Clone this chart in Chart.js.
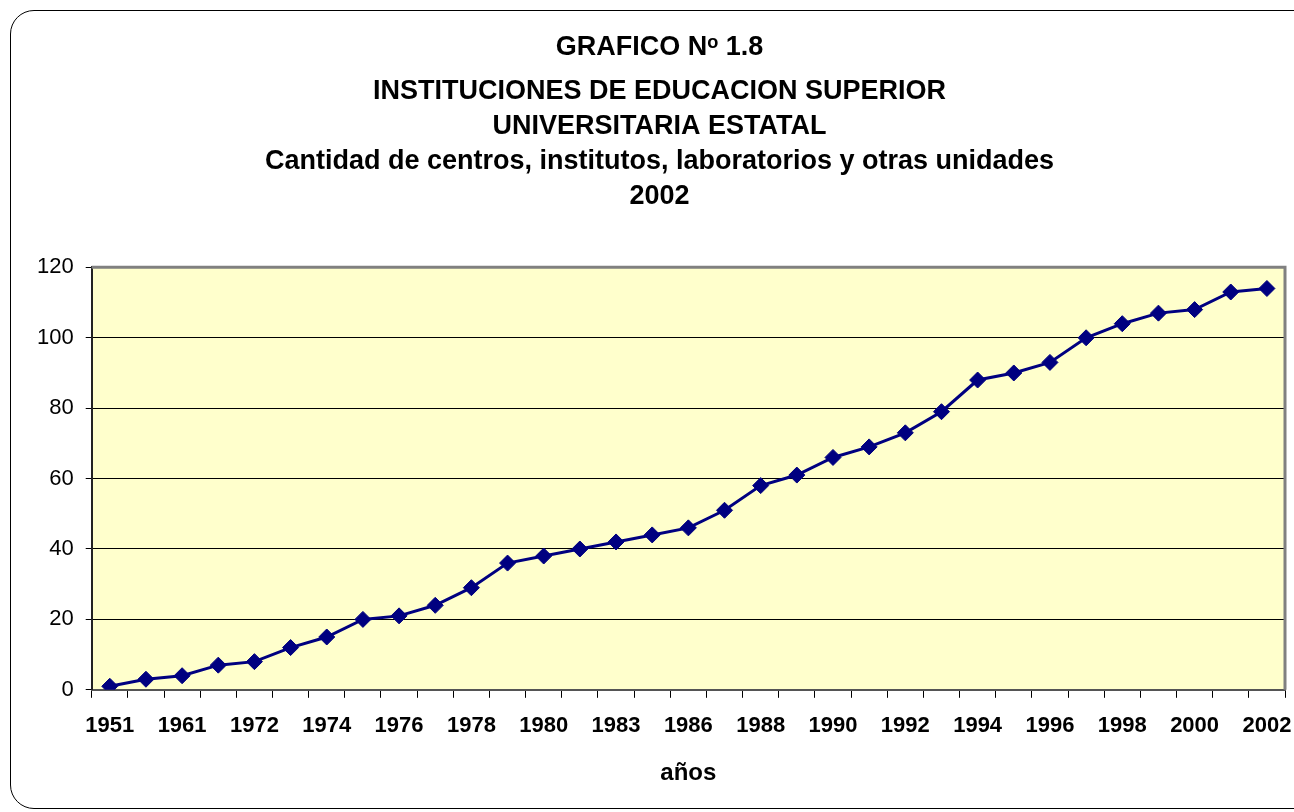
<!DOCTYPE html>
<html>
<head>
<meta charset="utf-8">
<script src="https://cdn.jsdelivr.net/npm/chart.js@4"></script>
<style>
    html, body { margin: 0; padding: 0; background: #fff; overflow: hidden; }
    #marco {
        position: absolute; left: 10px; top: 10px;
        width: 1310px; height: 799px;
        border: 1.5px solid #000; border-radius: 24px;
        box-sizing: border-box; pointer-events: none;
    }
    #wrap { position: absolute; left: 0; top: 0; width: 1294px; height: 812px; }
</style>
</head>
<body>
<div id="wrap"><canvas id="grafico" width="1294" height="812"></canvas></div>
<div id="marco"></div>
<script>
// años (solo se rotulan los pares)
const anios = [
    '1951', '1955', '1961', '1970', '1972', '1973', '1974', '1975', '1976', '1977', '1978',
    '1979', '1980', '1982', '1983', '1985', '1986', '1987', '1988', '1989', '1990',
    '1991', '1992', '1993', '1994', '1995', '1996', '1997', '1998', '1999', '2000',
    '2001', '2002'
];
// cantidad de centros, institutos, laboratorios y otras unidades
const cantidad = [
    1, 3, 4, 7, 8, 12, 15, 20, 21, 24, 29,
    36, 38, 40, 42, 44, 46, 51, 58, 61, 66,
    69, 73, 79, 88, 90, 93, 100, 104, 107, 108,
    113, 114
];
const titulo = 'GRAFICO N\u1D52 1.8';
const subtitulo = [
    'INSTITUCIONES DE EDUCACION SUPERIOR',
    'UNIVERSITARIA ESTATAL',
    'Cantidad de centros, institutos, laboratorios y otras unidades',
    '2002'
];

const fuente = "'Liberation Sans', Arial, sans-serif";

// fondo amarillo y borde gris del area de trazado
const fondoArea = {
    id: 'fondoArea',
    beforeDraw(chart) {
        const { ctx, chartArea: a } = chart;
        ctx.save();
        ctx.fillStyle = '#FFFFCC';
        ctx.fillRect(a.left, a.top, a.width, a.height);
        ctx.restore();
    },
    beforeDatasetsDraw(chart) {
        const { ctx, chartArea: a } = chart;
        ctx.save();
        ctx.strokeStyle = '#808080';
        ctx.lineWidth = 3;
        ctx.beginPath();
        ctx.moveTo(a.left, a.top);
        ctx.lineTo(a.right, a.top);
        ctx.lineTo(a.right, a.bottom);
        ctx.stroke();
        ctx.restore();
    }
};

const ctx = document.getElementById('grafico').getContext('2d');
const grafico = new Chart(ctx, {
    type: 'line',
    data: {
        labels: anios,
        datasets: [{
            data: cantidad,
            borderColor: '#000080',
            backgroundColor: '#000080',
            borderWidth: 3,
            pointStyle: 'rectRot',
            pointRadius: 8,
            pointBorderWidth: 1,
            tension: 0,
            fill: false
        }]
    },
    options: {
        responsive: false,
        animation: false,
        layout: { padding: { left: 25, right: 0, top: 0, bottom: 22 } },
        plugins: {
            legend: { display: false },
            tooltip: { enabled: false },
            title: {
                display: true,
                text: titulo,
                color: '#000',
                font: { family: fuente, size: 27, weight: 'bold' },
                padding: { top: 31, bottom: 11 }
            },
            subtitle: {
                display: true,
                text: subtitulo,
                color: '#000',
                font: { family: fuente, size: 27, weight: 'bold', lineHeight: 1.296 },
                padding: { top: 0, bottom: 53 }
            }
        },
        scales: {
            x: {
                offset: true,
                grid: {
                    offset: true,
                    drawOnChartArea: false,
                    drawTicks: true,
                    tickLength: 8,
                    color: '#000'
                },
                border: { color: '#555', width: 2 },
                ticks: {
                    autoSkip: false,
                    maxRotation: 0,
                    padding: 15,
                    color: '#000',
                    font: { family: fuente, size: 22, weight: 'bold' },
                    callback: function (val, i) {
                        return i % 2 === 0 ? this.getLabelForValue(val) : '';
                    }
                },
                title: {
                    display: true,
                    text: 'años',
                    color: '#000',
                    font: { family: fuente, size: 24, weight: 'bold' },
                    padding: { top: 5, bottom: 2 }
                },
                // el ultimo rotulo queda cortado por el borde, como en el original
                afterFit(scale) {
                    scale.paddingRight = 0;
                }
            },
            y: {
                min: 0,
                max: 120,
                grid: {
                    color: '#000',
                    lineWidth: 1,
                    tickLength: 6
                },
                border: { color: '#222', width: 2 },
                ticks: {
                    stepSize: 20,
                    padding: 12,
                    color: '#000',
                    font: { family: fuente, size: 22 }
                }
            }
        }
    },
    plugins: [fondoArea]
});
</script>
</body>
</html>
